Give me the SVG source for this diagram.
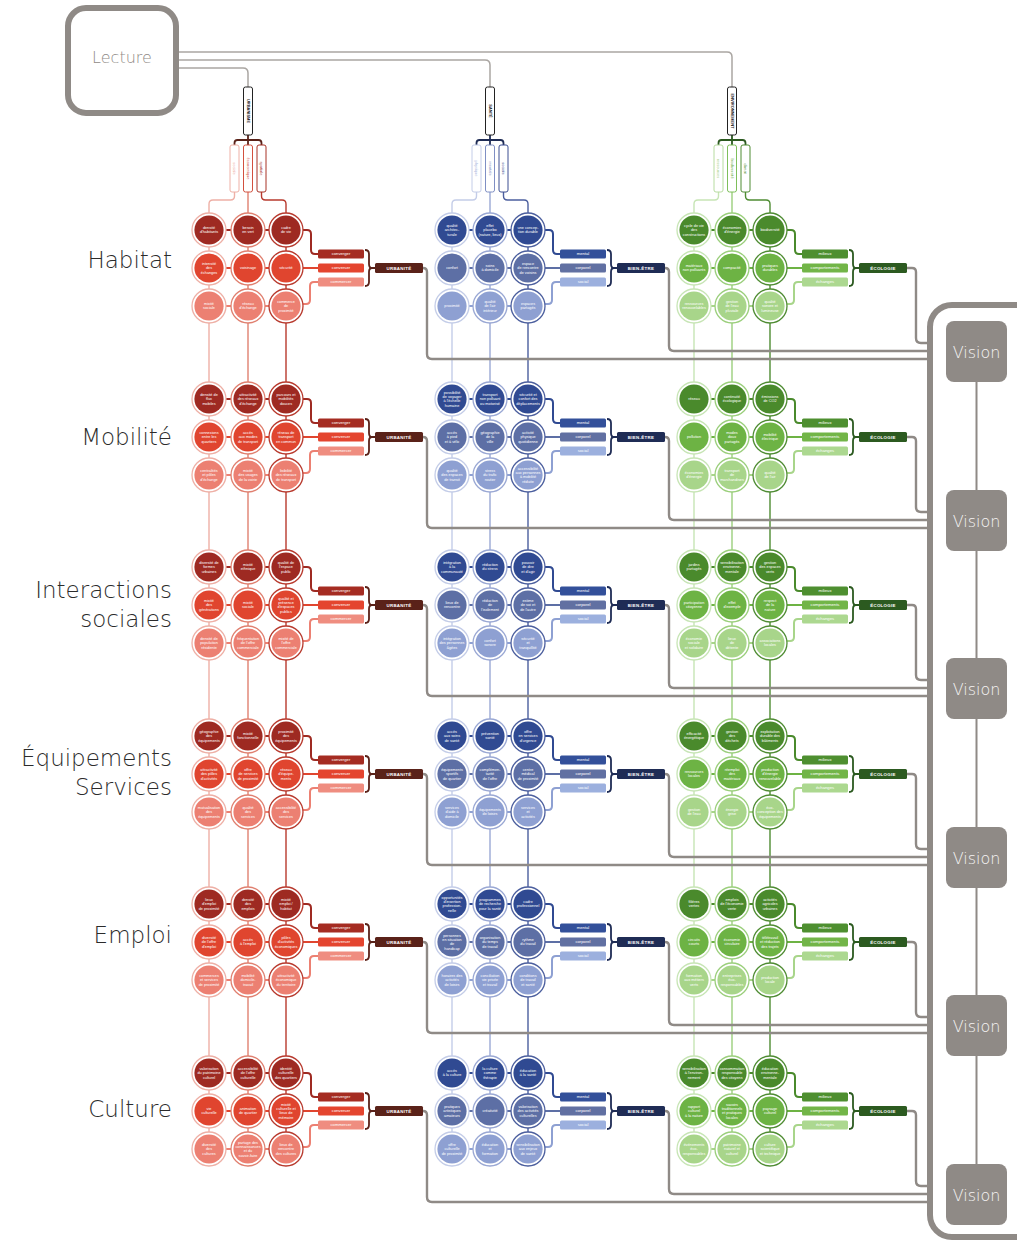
<svg xmlns="http://www.w3.org/2000/svg" xmlns:xlink="http://www.w3.org/1999/xlink" width="1017" height="1241" viewBox="0 0 1017 1241">
<style>
.ct{font-family:"Liberation Sans",Arial,sans-serif;font-size:3.8px;fill:#fff;text-anchor:middle}
.lt{font-family:"Liberation Sans",Arial,sans-serif;font-size:4.2px;fill:#fff;text-anchor:middle}
.bt{font-family:"Liberation Sans",Arial,sans-serif;font-size:4.4px;font-weight:bold;fill:#fff;text-anchor:middle;letter-spacing:.3px}
.vt{font-family:"Liberation Sans",Arial,sans-serif;font-size:4px;text-anchor:middle}
.title{font-family:"DejaVu Sans",sans-serif;font-size:23px;font-weight:200;fill:#2b2b2b;text-anchor:end}
.vis{font-family:"DejaVu Sans",sans-serif;font-size:16px;font-weight:200;fill:#f4f3f2;text-anchor:middle}
.rg{fill:#fff;stroke-width:1.3}
.conn path,#rowConn path{fill:none}
.rl{stroke-width:2}
.cl{stroke-width:1.4}
.drop{stroke:#8f8a86;stroke-width:2.4}
.lec{stroke:#aaa6a2;stroke-width:1.5}
.brace{stroke-width:1.8}
.fu1{fill:#9e2a22}.fu2{fill:#e0452f}.fu3{fill:#ec8072}
.fb1{fill:#304a92}.fb2{fill:#5d6fa5}.fb3{fill:#8ea0d2}
.fg1{fill:#4a8a2c}.fg2{fill:#6db344}.fg3{fill:#a8d58a}
.ku1{stroke:#eeb0a6}.ku2{stroke:#e08070}.ku3{stroke:#b83a2e}
.kb1{stroke:#c4cde8}.kb2{stroke:#9aa8d4}.kb3{stroke:#4c5f9e}
.kg1{stroke:#c7e5b5}.kg2{stroke:#9bcf7c}.kg3{stroke:#4f8c33}
.su1{stroke:#9e2a22}.su2{stroke:#e0452f}.su3{stroke:#ec8072}
.sb1{stroke:#304a92}.sb2{stroke:#5d6fa5}.sb3{stroke:#8ea0d2}
.sg1{stroke:#4a8a2c}.sg2{stroke:#6db344}.sg3{stroke:#a8d58a}
.bu{stroke:#5a2219}.bb{stroke:#1f2c55}.bg{stroke:#2c5a20}
.frame{fill:none;stroke:#8f8a86;stroke-width:6}
.vbox{fill:#8f8a86}
</style>
<defs>
<g id="rowConn" fill="none">
<path class="rl su1" d="M209 230H286"/><path class="rl su2" d="M209 268H286"/><path class="rl su3" d="M209 306H286"/>
<path class="rl su1" d="M303 230H307Q311 230 311 234V250Q311 254 315 254H318"/>
<path class="rl su2" d="M303 268H318"/>
<path class="rl su3" d="M303 304H306Q310 304 310 300V286Q310 282 314 282H318"/>
<path class="brace bu" d="M365 250Q369 250 369 254V264Q369 268 372 268Q369 268 369 272V282Q369 286 365 286M372 268H375"/>
<path class="drop" d="M423 268Q427 268 427 272V354Q427 359 432 359H930"/>
<path class="rl sb1" d="M452 230H528"/><path class="rl sb2" d="M452 268H528"/><path class="rl sb3" d="M452 306H528"/>
<path class="rl sb1" d="M545 230H549Q553 230 553 234V250Q553 254 557 254H560"/>
<path class="rl sb2" d="M545 268H560"/>
<path class="rl sb3" d="M545 304H548Q552 304 552 300V286Q552 282 556 282H560"/>
<path class="brace bb" d="M607 250Q611 250 611 254V264Q611 268 614 268Q611 268 611 272V282Q611 286 607 286M614 268H617"/>
<path class="drop" d="M665 268Q669 268 669 272V346Q669 351 674 351H930"/>
<path class="rl sg1" d="M694 230H770"/><path class="rl sg2" d="M694 268H770"/><path class="rl sg3" d="M694 306H770"/>
<path class="rl sg1" d="M787 230H791Q795 230 795 234V250Q795 254 799 254H802"/>
<path class="rl sg2" d="M787 268H802"/>
<path class="rl sg3" d="M787 304H790Q794 304 794 300V286Q794 282 798 282H802"/>
<path class="brace bg" d="M849 250Q853 250 853 254V264Q853 268 856 268Q853 268 853 272V282Q853 286 849 286M856 268H859"/>
<path class="drop" d="M907 268H912Q916 268 916 272V338Q916 343 921 343H930"/>
</g>
</defs>
<rect width="1017" height="1241" fill="#fff"/>

<g id="connectors" class="conn" fill="none">
<path class="lec" d="M179 52H727Q732 52 732 57V87"/>
<path class="lec" d="M179 60H485Q490 60 490 65V87"/>
<path class="lec" d="M179 68H243Q248 68 248 73V87"/>
<path class="brace bu" stroke-width="1.2" d="M248 135V145M234.5 145V143Q234.5 140 237.5 140H258.5Q261.5 140 261.5 143V145"/>
<path class="brace bb" stroke-width="1.2" d="M490 135V145M476.5 145V143Q476.5 140 479.5 140H500.5Q503.5 140 503.5 143V145"/>
<path class="brace bg" stroke-width="1.2" d="M732 135V145M718.5 145V143Q718.5 140 721.5 140H742.5Q745.5 140 745.5 143V145"/>
<path class="cl ku1" d="M234.5 192V196Q234.5 200 230.5 200H213Q209 200 209 204V1149"/>
<path class="cl ku2" d="M248 192V1149"/>
<path class="cl ku3" d="M261.5 192V196Q261.5 200 265.5 200H282Q286 200 286 204V1149"/>
<path class="cl kb1" d="M476.5 192V196Q476.5 200 472.5 200H456Q452 200 452 204V1149"/>
<path class="cl kb2" d="M490 192V1149"/>
<path class="cl kb3" d="M503.5 192V196Q503.5 200 507.5 200H524Q528 200 528 204V1149"/>
<path class="cl kg1" d="M718.5 192V196Q718.5 200 714.5 200H698Q694 200 694 204V1149"/>
<path class="cl kg2" d="M732 192V1149"/>
<path class="cl kg3" d="M745.5 192V196Q745.5 200 749.5 200H766Q770 200 770 204V1149"/>
<path stroke="#8f8a86" stroke-width="2" d="M976.5 382V1164"/>
<use xlink:href="#rowConn"/>
<use xlink:href="#rowConn" y="169"/>
<use xlink:href="#rowConn" y="337"/>
<use xlink:href="#rowConn" y="506"/>
<use xlink:href="#rowConn" y="674"/>
<use xlink:href="#rowConn" y="843"/>
</g>

<g id="lecture"><rect x="68" y="8" width="108" height="105" rx="18" fill="#fff" stroke="#8f8a86" stroke-width="6"/><text x="122" y="63" font-family="DejaVu Sans,sans-serif" font-size="16" font-weight="200" fill="#8f8a86" text-anchor="middle">Lecture</text></g>

<g id="top-urbanisme"><rect x="243.5" y="87" width="9" height="48" rx="2" fill="#fff" stroke="#222" stroke-width="1"/><text class="vt" font-weight="bold" fill="#222" transform="translate(246.6 111) rotate(90)">URBANISME</text></g>
<g id="top-sante"><rect x="485.5" y="87" width="9" height="48" rx="2" fill="#fff" stroke="#222" stroke-width="1"/><text class="vt" font-weight="bold" fill="#222" transform="translate(488.6 111) rotate(90)">SANTÉ</text></g>
<g id="top-environnement"><rect x="727.5" y="87" width="9" height="48" rx="2" fill="#fff" stroke="#222" stroke-width="1"/><text class="vt" font-weight="bold" fill="#222" font-size="3.6" transform="translate(730.6 111) rotate(90)">ENVIRONNEMENT</text></g>

<g id="sub-u1"><rect x="230" y="145" width="9" height="47" rx="2" fill="#fff" stroke="#eeb0a6"/><text class="vt" fill="#eeb0a6" transform="translate(233.1 168.5) rotate(90)">sociale</text></g>
<g id="sub-u2"><rect x="243.5" y="145" width="9" height="47" rx="2" fill="#fff" stroke="#d2503e"/><text class="vt" fill="#d2503e" transform="translate(246.6 168.5) rotate(90)">économique</text></g>
<g id="sub-u3"><rect x="257" y="145" width="9" height="47" rx="2" fill="#fff" stroke="#a83226"/><text class="vt" fill="#a83226" transform="translate(260.1 168.5) rotate(90)">spatiale</text></g>
<g id="sub-b1"><rect x="472" y="145" width="9" height="47" rx="2" fill="#fff" stroke="#c4cde8"/><text class="vt" fill="#aab6dc" transform="translate(475.1 168.5) rotate(90)">physique</text></g>
<g id="sub-b2"><rect x="485.5" y="145" width="9" height="47" rx="2" fill="#fff" stroke="#7f8fc4"/><text class="vt" fill="#7f8fc4" transform="translate(488.6 168.5) rotate(90)">mentale</text></g>
<g id="sub-b3"><rect x="499" y="145" width="9" height="47" rx="2" fill="#fff" stroke="#3c4f92"/><text class="vt" fill="#3c4f92" transform="translate(502.1 168.5) rotate(90)">sociale</text></g>
<g id="sub-g1"><rect x="714" y="145" width="9" height="47" rx="2" fill="#fff" stroke="#b7dca0"/><text class="vt" fill="#9fce82" transform="translate(717.1 168.5) rotate(90)">ressources</text></g>
<g id="sub-g2"><rect x="727.5" y="145" width="9" height="47" rx="2" fill="#fff" stroke="#7ebf5a"/><text class="vt" fill="#6aae45" transform="translate(730.6 168.5) rotate(90)">biodiversité</text></g>
<g id="sub-g3"><rect x="741" y="145" width="9" height="47" rx="2" fill="#fff" stroke="#4f8c33"/><text class="vt" fill="#4f8c33" transform="translate(744.1 168.5) rotate(90)">climat</text></g>

<g id="row-titles">
<text class="title" x="172" y="268">Habitat</text>
<text class="title" x="172" y="445">Mobilité</text>
<text class="title" x="172" y="598">Interactions</text>
<text class="title" x="172" y="627">sociales</text>
<text class="title" x="172" y="766">Équipements</text>
<text class="title" x="172" y="795">Services</text>
<text class="title" x="172" y="943">Emploi</text>
<text class="title" x="172" y="1117">Culture</text>
</g>

<g id="vision-frame"><rect class="frame" x="930" y="305" width="130" height="932" rx="22"/></g>
<g id="vision-1"><rect class="vbox" x="946" y="321" width="61" height="61" rx="8"/><text class="vis" x="976.5" y="358">Vision</text></g>
<g id="vision-2"><rect class="vbox" x="946" y="490" width="61" height="61" rx="8"/><text class="vis" x="976.5" y="527">Vision</text></g>
<g id="vision-3"><rect class="vbox" x="946" y="658" width="61" height="61" rx="8"/><text class="vis" x="976.5" y="695">Vision</text></g>
<g id="vision-4"><rect class="vbox" x="946" y="827" width="61" height="61" rx="8"/><text class="vis" x="976.5" y="864">Vision</text></g>
<g id="vision-5"><rect class="vbox" x="946" y="995" width="61" height="61" rx="8"/><text class="vis" x="976.5" y="1032">Vision</text></g>
<g id="vision-6"><rect class="vbox" x="946" y="1164" width="61" height="61" rx="8"/><text class="vis" x="976.5" y="1201">Vision</text></g>

<g id="labels-habitat">
<g id="hab-converger"><rect x="318" y="249.5" width="46" height="9" rx="1.5" fill="#a52c22"/><text class="lt" x="341" y="255.4">converger</text></g>
<g id="hab-converser"><rect x="318" y="263.5" width="46" height="9" rx="1.5" fill="#e4452f"/><text class="lt" x="341" y="269.4">converser</text></g>
<g id="hab-commercer"><rect x="318" y="277.5" width="46" height="9" rx="1.5" fill="#ef8d80"/><text class="lt" x="341" y="283.4">commercer</text></g>
<g id="hab-urbanite"><rect x="375" y="263" width="48" height="10" rx="1.5" fill="#5a2219"/><text class="bt" x="399" y="269.6">URBANITÉ</text></g>
<g id="hab-mental"><rect x="560" y="249.5" width="46" height="9" rx="1.5" fill="#33509a"/><text class="lt" x="583" y="255.4">mental</text></g>
<g id="hab-corporel"><rect x="560" y="263.5" width="46" height="9" rx="1.5" fill="#6170a2"/><text class="lt" x="583" y="269.4">corporel</text></g>
<g id="hab-social"><rect x="560" y="277.5" width="46" height="9" rx="1.5" fill="#9cb0de"/><text class="lt" x="583" y="283.4">social</text></g>
<g id="hab-bienetre"><rect x="617" y="263" width="48" height="10" rx="1.5" fill="#1f2c55"/><text class="bt" x="641" y="269.6">BIEN-ÊTRE</text></g>
<g id="hab-milieux"><rect x="802" y="249.5" width="46" height="9" rx="1.5" fill="#4e8f30"/><text class="lt" x="825" y="255.4">milieux</text></g>
<g id="hab-comportements"><rect x="802" y="263.5" width="46" height="9" rx="1.5" fill="#72b548"/><text class="lt" x="825" y="269.4">comportements</text></g>
<g id="hab-echanges"><rect x="802" y="277.5" width="46" height="9" rx="1.5" fill="#acd890"/><text class="lt" x="825" y="283.4">échanges</text></g>
<g id="hab-ecologie"><rect x="859" y="263" width="48" height="10" rx="1.5" fill="#2c5a20"/><text class="bt" x="883" y="269.6">ÉCOLOGIE</text></g>
</g>
<g id="labels-mobilite" transform="translate(0 169)">
<g id="mob-converger"><rect x="318" y="249.5" width="46" height="9" rx="1.5" fill="#a52c22"/><text class="lt" x="341" y="255.4">converger</text></g>
<g id="mob-converser"><rect x="318" y="263.5" width="46" height="9" rx="1.5" fill="#e4452f"/><text class="lt" x="341" y="269.4">converser</text></g>
<g id="mob-commercer"><rect x="318" y="277.5" width="46" height="9" rx="1.5" fill="#ef8d80"/><text class="lt" x="341" y="283.4">commercer</text></g>
<g id="mob-urbanite"><rect x="375" y="263" width="48" height="10" rx="1.5" fill="#5a2219"/><text class="bt" x="399" y="269.6">URBANITÉ</text></g>
<g id="mob-mental"><rect x="560" y="249.5" width="46" height="9" rx="1.5" fill="#33509a"/><text class="lt" x="583" y="255.4">mental</text></g>
<g id="mob-corporel"><rect x="560" y="263.5" width="46" height="9" rx="1.5" fill="#6170a2"/><text class="lt" x="583" y="269.4">corporel</text></g>
<g id="mob-social"><rect x="560" y="277.5" width="46" height="9" rx="1.5" fill="#9cb0de"/><text class="lt" x="583" y="283.4">social</text></g>
<g id="mob-bienetre"><rect x="617" y="263" width="48" height="10" rx="1.5" fill="#1f2c55"/><text class="bt" x="641" y="269.6">BIEN-ÊTRE</text></g>
<g id="mob-milieux"><rect x="802" y="249.5" width="46" height="9" rx="1.5" fill="#4e8f30"/><text class="lt" x="825" y="255.4">milieux</text></g>
<g id="mob-comportements"><rect x="802" y="263.5" width="46" height="9" rx="1.5" fill="#72b548"/><text class="lt" x="825" y="269.4">comportements</text></g>
<g id="mob-echanges"><rect x="802" y="277.5" width="46" height="9" rx="1.5" fill="#acd890"/><text class="lt" x="825" y="283.4">échanges</text></g>
<g id="mob-ecologie"><rect x="859" y="263" width="48" height="10" rx="1.5" fill="#2c5a20"/><text class="bt" x="883" y="269.6">ÉCOLOGIE</text></g>
</g>
<g id="labels-interactions" transform="translate(0 337)">
<g id="int-converger"><rect x="318" y="249.5" width="46" height="9" rx="1.5" fill="#a52c22"/><text class="lt" x="341" y="255.4">converger</text></g>
<g id="int-converser"><rect x="318" y="263.5" width="46" height="9" rx="1.5" fill="#e4452f"/><text class="lt" x="341" y="269.4">converser</text></g>
<g id="int-commercer"><rect x="318" y="277.5" width="46" height="9" rx="1.5" fill="#ef8d80"/><text class="lt" x="341" y="283.4">commercer</text></g>
<g id="int-urbanite"><rect x="375" y="263" width="48" height="10" rx="1.5" fill="#5a2219"/><text class="bt" x="399" y="269.6">URBANITÉ</text></g>
<g id="int-mental"><rect x="560" y="249.5" width="46" height="9" rx="1.5" fill="#33509a"/><text class="lt" x="583" y="255.4">mental</text></g>
<g id="int-corporel"><rect x="560" y="263.5" width="46" height="9" rx="1.5" fill="#6170a2"/><text class="lt" x="583" y="269.4">corporel</text></g>
<g id="int-social"><rect x="560" y="277.5" width="46" height="9" rx="1.5" fill="#9cb0de"/><text class="lt" x="583" y="283.4">social</text></g>
<g id="int-bienetre"><rect x="617" y="263" width="48" height="10" rx="1.5" fill="#1f2c55"/><text class="bt" x="641" y="269.6">BIEN-ÊTRE</text></g>
<g id="int-milieux"><rect x="802" y="249.5" width="46" height="9" rx="1.5" fill="#4e8f30"/><text class="lt" x="825" y="255.4">milieux</text></g>
<g id="int-comportements"><rect x="802" y="263.5" width="46" height="9" rx="1.5" fill="#72b548"/><text class="lt" x="825" y="269.4">comportements</text></g>
<g id="int-echanges"><rect x="802" y="277.5" width="46" height="9" rx="1.5" fill="#acd890"/><text class="lt" x="825" y="283.4">échanges</text></g>
<g id="int-ecologie"><rect x="859" y="263" width="48" height="10" rx="1.5" fill="#2c5a20"/><text class="bt" x="883" y="269.6">ÉCOLOGIE</text></g>
</g>
<g id="labels-equipements" transform="translate(0 506)">
<g id="equ-converger"><rect x="318" y="249.5" width="46" height="9" rx="1.5" fill="#a52c22"/><text class="lt" x="341" y="255.4">converger</text></g>
<g id="equ-converser"><rect x="318" y="263.5" width="46" height="9" rx="1.5" fill="#e4452f"/><text class="lt" x="341" y="269.4">converser</text></g>
<g id="equ-commercer"><rect x="318" y="277.5" width="46" height="9" rx="1.5" fill="#ef8d80"/><text class="lt" x="341" y="283.4">commercer</text></g>
<g id="equ-urbanite"><rect x="375" y="263" width="48" height="10" rx="1.5" fill="#5a2219"/><text class="bt" x="399" y="269.6">URBANITÉ</text></g>
<g id="equ-mental"><rect x="560" y="249.5" width="46" height="9" rx="1.5" fill="#33509a"/><text class="lt" x="583" y="255.4">mental</text></g>
<g id="equ-corporel"><rect x="560" y="263.5" width="46" height="9" rx="1.5" fill="#6170a2"/><text class="lt" x="583" y="269.4">corporel</text></g>
<g id="equ-social"><rect x="560" y="277.5" width="46" height="9" rx="1.5" fill="#9cb0de"/><text class="lt" x="583" y="283.4">social</text></g>
<g id="equ-bienetre"><rect x="617" y="263" width="48" height="10" rx="1.5" fill="#1f2c55"/><text class="bt" x="641" y="269.6">BIEN-ÊTRE</text></g>
<g id="equ-milieux"><rect x="802" y="249.5" width="46" height="9" rx="1.5" fill="#4e8f30"/><text class="lt" x="825" y="255.4">milieux</text></g>
<g id="equ-comportements"><rect x="802" y="263.5" width="46" height="9" rx="1.5" fill="#72b548"/><text class="lt" x="825" y="269.4">comportements</text></g>
<g id="equ-echanges"><rect x="802" y="277.5" width="46" height="9" rx="1.5" fill="#acd890"/><text class="lt" x="825" y="283.4">échanges</text></g>
<g id="equ-ecologie"><rect x="859" y="263" width="48" height="10" rx="1.5" fill="#2c5a20"/><text class="bt" x="883" y="269.6">ÉCOLOGIE</text></g>
</g>
<g id="labels-emploi" transform="translate(0 674)">
<g id="emp-converger"><rect x="318" y="249.5" width="46" height="9" rx="1.5" fill="#a52c22"/><text class="lt" x="341" y="255.4">converger</text></g>
<g id="emp-converser"><rect x="318" y="263.5" width="46" height="9" rx="1.5" fill="#e4452f"/><text class="lt" x="341" y="269.4">converser</text></g>
<g id="emp-commercer"><rect x="318" y="277.5" width="46" height="9" rx="1.5" fill="#ef8d80"/><text class="lt" x="341" y="283.4">commercer</text></g>
<g id="emp-urbanite"><rect x="375" y="263" width="48" height="10" rx="1.5" fill="#5a2219"/><text class="bt" x="399" y="269.6">URBANITÉ</text></g>
<g id="emp-mental"><rect x="560" y="249.5" width="46" height="9" rx="1.5" fill="#33509a"/><text class="lt" x="583" y="255.4">mental</text></g>
<g id="emp-corporel"><rect x="560" y="263.5" width="46" height="9" rx="1.5" fill="#6170a2"/><text class="lt" x="583" y="269.4">corporel</text></g>
<g id="emp-social"><rect x="560" y="277.5" width="46" height="9" rx="1.5" fill="#9cb0de"/><text class="lt" x="583" y="283.4">social</text></g>
<g id="emp-bienetre"><rect x="617" y="263" width="48" height="10" rx="1.5" fill="#1f2c55"/><text class="bt" x="641" y="269.6">BIEN-ÊTRE</text></g>
<g id="emp-milieux"><rect x="802" y="249.5" width="46" height="9" rx="1.5" fill="#4e8f30"/><text class="lt" x="825" y="255.4">milieux</text></g>
<g id="emp-comportements"><rect x="802" y="263.5" width="46" height="9" rx="1.5" fill="#72b548"/><text class="lt" x="825" y="269.4">comportements</text></g>
<g id="emp-echanges"><rect x="802" y="277.5" width="46" height="9" rx="1.5" fill="#acd890"/><text class="lt" x="825" y="283.4">échanges</text></g>
<g id="emp-ecologie"><rect x="859" y="263" width="48" height="10" rx="1.5" fill="#2c5a20"/><text class="bt" x="883" y="269.6">ÉCOLOGIE</text></g>
</g>
<g id="labels-culture" transform="translate(0 843)">
<g id="cul-converger"><rect x="318" y="249.5" width="46" height="9" rx="1.5" fill="#a52c22"/><text class="lt" x="341" y="255.4">converger</text></g>
<g id="cul-converser"><rect x="318" y="263.5" width="46" height="9" rx="1.5" fill="#e4452f"/><text class="lt" x="341" y="269.4">converser</text></g>
<g id="cul-commercer"><rect x="318" y="277.5" width="46" height="9" rx="1.5" fill="#ef8d80"/><text class="lt" x="341" y="283.4">commercer</text></g>
<g id="cul-urbanite"><rect x="375" y="263" width="48" height="10" rx="1.5" fill="#5a2219"/><text class="bt" x="399" y="269.6">URBANITÉ</text></g>
<g id="cul-mental"><rect x="560" y="249.5" width="46" height="9" rx="1.5" fill="#33509a"/><text class="lt" x="583" y="255.4">mental</text></g>
<g id="cul-corporel"><rect x="560" y="263.5" width="46" height="9" rx="1.5" fill="#6170a2"/><text class="lt" x="583" y="269.4">corporel</text></g>
<g id="cul-social"><rect x="560" y="277.5" width="46" height="9" rx="1.5" fill="#9cb0de"/><text class="lt" x="583" y="283.4">social</text></g>
<g id="cul-bienetre"><rect x="617" y="263" width="48" height="10" rx="1.5" fill="#1f2c55"/><text class="bt" x="641" y="269.6">BIEN-ÊTRE</text></g>
<g id="cul-milieux"><rect x="802" y="249.5" width="46" height="9" rx="1.5" fill="#4e8f30"/><text class="lt" x="825" y="255.4">milieux</text></g>
<g id="cul-comportements"><rect x="802" y="263.5" width="46" height="9" rx="1.5" fill="#72b548"/><text class="lt" x="825" y="269.4">comportements</text></g>
<g id="cul-echanges"><rect x="802" y="277.5" width="46" height="9" rx="1.5" fill="#acd890"/><text class="lt" x="825" y="283.4">échanges</text></g>
<g id="cul-ecologie"><rect x="859" y="263" width="48" height="10" rx="1.5" fill="#2c5a20"/><text class="bt" x="883" y="269.6">ÉCOLOGIE</text></g>
</g>

<g id="hab-u11" transform="translate(209 230)"><circle r="17" class="rg ku1"/><circle r="14.6" class="fu1"/><text class="ct" y="-0.85"><tspan x="0">densité</tspan><tspan x="0" dy="4.3">d'habitants</tspan></text></g>
<g id="hab-u12" transform="translate(248 230)"><circle r="17" class="rg ku2"/><circle r="14.6" class="fu1"/><text class="ct" y="-0.85"><tspan x="0">besoin</tspan><tspan x="0" dy="4.3">en vert</tspan></text></g>
<g id="hab-u13" transform="translate(286 230)"><circle r="17" class="rg ku3"/><circle r="14.6" class="fu1"/><text class="ct" y="-0.85"><tspan x="0">cadre</tspan><tspan x="0" dy="4.3">de vie</tspan></text></g>
<g id="hab-u21" transform="translate(209 268)"><circle r="17" class="rg ku1"/><circle r="14.6" class="fu2"/><text class="ct" y="-3"><tspan x="0">intensité</tspan><tspan x="0" dy="4.3">des</tspan><tspan x="0" dy="4.3">échanges</tspan></text></g>
<g id="hab-u22" transform="translate(248 268)"><circle r="17" class="rg ku2"/><circle r="14.6" class="fu2"/><text class="ct" y="1.3">voisinage</text></g>
<g id="hab-u23" transform="translate(286 268)"><circle r="17" class="rg ku3"/><circle r="14.6" class="fu2"/><text class="ct" y="1.3">sécurité</text></g>
<g id="hab-u31" transform="translate(209 306)"><circle r="17" class="rg ku1"/><circle r="14.6" class="fu3"/><text class="ct" y="-0.85"><tspan x="0">mixité</tspan><tspan x="0" dy="4.3">sociale</tspan></text></g>
<g id="hab-u32" transform="translate(248 306)"><circle r="17" class="rg ku2"/><circle r="14.6" class="fu3"/><text class="ct" y="-0.85"><tspan x="0">réseau</tspan><tspan x="0" dy="4.3">d'échange</tspan></text></g>
<g id="hab-u33" transform="translate(286 306)"><circle r="17" class="rg ku3"/><circle r="14.6" class="fu3"/><text class="ct" y="-3"><tspan x="0">commerce</tspan><tspan x="0" dy="4.3">de</tspan><tspan x="0" dy="4.3">proximité</tspan></text></g>
<g id="hab-b11" transform="translate(452 230)"><circle r="17" class="rg kb1"/><circle r="14.6" class="fb1"/><text class="ct" y="-3"><tspan x="0">qualité</tspan><tspan x="0" dy="4.3">architec-</tspan><tspan x="0" dy="4.3">turale</tspan></text></g>
<g id="hab-b12" transform="translate(490 230)"><circle r="17" class="rg kb2"/><circle r="14.6" class="fb1"/><text class="ct" y="-3"><tspan x="0">effet</tspan><tspan x="0" dy="4.3">placebo</tspan><tspan x="0" dy="4.3">(nature, lieux)</tspan></text></g>
<g id="hab-b13" transform="translate(528 230)"><circle r="17" class="rg kb3"/><circle r="14.6" class="fb1"/><text class="ct" y="-0.85"><tspan x="0">une concep-</tspan><tspan x="0" dy="4.3">tion durable</tspan></text></g>
<g id="hab-b21" transform="translate(452 268)"><circle r="17" class="rg kb1"/><circle r="14.6" class="fb2"/><text class="ct" y="1.3">confort</text></g>
<g id="hab-b22" transform="translate(490 268)"><circle r="17" class="rg kb2"/><circle r="14.6" class="fb2"/><text class="ct" y="-0.85"><tspan x="0">soins</tspan><tspan x="0" dy="4.3">à domicile</tspan></text></g>
<g id="hab-b23" transform="translate(528 268)"><circle r="17" class="rg kb3"/><circle r="14.6" class="fb2"/><text class="ct" y="-3"><tspan x="0">espace</tspan><tspan x="0" dy="4.3">de rencontre</tspan><tspan x="0" dy="4.3">de voisins</tspan></text></g>
<g id="hab-b31" transform="translate(452 306)"><circle r="17" class="rg kb1"/><circle r="14.6" class="fb3"/><text class="ct" y="1.3">proximité</text></g>
<g id="hab-b32" transform="translate(490 306)"><circle r="17" class="rg kb2"/><circle r="14.6" class="fb3"/><text class="ct" y="-3"><tspan x="0">qualité</tspan><tspan x="0" dy="4.3">de l'air</tspan><tspan x="0" dy="4.3">intérieur</tspan></text></g>
<g id="hab-b33" transform="translate(528 306)"><circle r="17" class="rg kb3"/><circle r="14.6" class="fb3"/><text class="ct" y="-0.85"><tspan x="0">espaces</tspan><tspan x="0" dy="4.3">partagés</tspan></text></g>
<g id="hab-g11" transform="translate(694 230)"><circle r="17" class="rg kg1"/><circle r="14.6" class="fg1"/><text class="ct" y="-3"><tspan x="0">cycle de vie</tspan><tspan x="0" dy="4.3">des</tspan><tspan x="0" dy="4.3">constructions</tspan></text></g>
<g id="hab-g12" transform="translate(732 230)"><circle r="17" class="rg kg2"/><circle r="14.6" class="fg1"/><text class="ct" y="-0.85"><tspan x="0">économies</tspan><tspan x="0" dy="4.3">d'énergie</tspan></text></g>
<g id="hab-g13" transform="translate(770 230)"><circle r="17" class="rg kg3"/><circle r="14.6" class="fg1"/><text class="ct" y="1.3">biodiversité</text></g>
<g id="hab-g21" transform="translate(694 268)"><circle r="17" class="rg kg1"/><circle r="14.6" class="fg2"/><text class="ct" y="-0.85"><tspan x="0">matériaux</tspan><tspan x="0" dy="4.3">non polluants</tspan></text></g>
<g id="hab-g22" transform="translate(732 268)"><circle r="17" class="rg kg2"/><circle r="14.6" class="fg2"/><text class="ct" y="1.3">compacité</text></g>
<g id="hab-g23" transform="translate(770 268)"><circle r="17" class="rg kg3"/><circle r="14.6" class="fg2"/><text class="ct" y="-0.85"><tspan x="0">pratiques</tspan><tspan x="0" dy="4.3">durables</tspan></text></g>
<g id="hab-g31" transform="translate(694 306)"><circle r="17" class="rg kg1"/><circle r="14.6" class="fg3"/><text class="ct" y="-0.85"><tspan x="0">ressources</tspan><tspan x="0" dy="4.3">renouvelables</tspan></text></g>
<g id="hab-g32" transform="translate(732 306)"><circle r="17" class="rg kg2"/><circle r="14.6" class="fg3"/><text class="ct" y="-3"><tspan x="0">gestion</tspan><tspan x="0" dy="4.3">de l'eau</tspan><tspan x="0" dy="4.3">pluviale</tspan></text></g>
<g id="hab-g33" transform="translate(770 306)"><circle r="17" class="rg kg3"/><circle r="14.6" class="fg3"/><text class="ct" y="-3"><tspan x="0">qualité</tspan><tspan x="0" dy="4.3">sonore et</tspan><tspan x="0" dy="4.3">lumineuse</tspan></text></g>

<g id="mob-u11" transform="translate(209 399)"><circle r="17" class="rg ku1"/><circle r="14.6" class="fu1"/><text class="ct" y="-3"><tspan x="0">densité de</tspan><tspan x="0" dy="4.3">flux</tspan><tspan x="0" dy="4.3">mobiles</tspan></text></g>
<g id="mob-u12" transform="translate(248 399)"><circle r="17" class="rg ku2"/><circle r="14.6" class="fu1"/><text class="ct" y="-3"><tspan x="0">attractivité</tspan><tspan x="0" dy="4.3">des réseaux</tspan><tspan x="0" dy="4.3">d'échange</tspan></text></g>
<g id="mob-u13" transform="translate(286 399)"><circle r="17" class="rg ku3"/><circle r="14.6" class="fu1"/><text class="ct" y="-3"><tspan x="0">parcours et</tspan><tspan x="0" dy="4.3">mobilités</tspan><tspan x="0" dy="4.3">douces</tspan></text></g>
<g id="mob-u21" transform="translate(209 437)"><circle r="17" class="rg ku1"/><circle r="14.6" class="fu2"/><text class="ct" y="-3"><tspan x="0">connexions</tspan><tspan x="0" dy="4.3">entre les</tspan><tspan x="0" dy="4.3">quartiers</tspan></text></g>
<g id="mob-u22" transform="translate(248 437)"><circle r="17" class="rg ku2"/><circle r="14.6" class="fu2"/><text class="ct" y="-3"><tspan x="0">accès</tspan><tspan x="0" dy="4.3">aux modes</tspan><tspan x="0" dy="4.3">de transport</tspan></text></g>
<g id="mob-u23" transform="translate(286 437)"><circle r="17" class="rg ku3"/><circle r="14.6" class="fu2"/><text class="ct" y="-3"><tspan x="0">réseau de</tspan><tspan x="0" dy="4.3">transport</tspan><tspan x="0" dy="4.3">en commun</tspan></text></g>
<g id="mob-u31" transform="translate(209 475)"><circle r="17" class="rg ku1"/><circle r="14.6" class="fu3"/><text class="ct" y="-3"><tspan x="0">centralités</tspan><tspan x="0" dy="4.3">et pôles</tspan><tspan x="0" dy="4.3">d'échange</tspan></text></g>
<g id="mob-u32" transform="translate(248 475)"><circle r="17" class="rg ku2"/><circle r="14.6" class="fu3"/><text class="ct" y="-3"><tspan x="0">mixité</tspan><tspan x="0" dy="4.3">des usages</tspan><tspan x="0" dy="4.3">de la voirie</tspan></text></g>
<g id="mob-u33" transform="translate(286 475)"><circle r="17" class="rg ku3"/><circle r="14.6" class="fu3"/><text class="ct" y="-3"><tspan x="0">lisibilité</tspan><tspan x="0" dy="4.3">des réseaux</tspan><tspan x="0" dy="4.3">de transport</tspan></text></g>
<g id="mob-b11" transform="translate(452 399)"><circle r="17" class="rg kb1"/><circle r="14.6" class="fb1"/><text class="ct" y="-5.15"><tspan x="0">possibilité</tspan><tspan x="0" dy="4.3">de voyager</tspan><tspan x="0" dy="4.3">à l'échelle</tspan><tspan x="0" dy="4.3">humaine</tspan></text></g>
<g id="mob-b12" transform="translate(490 399)"><circle r="17" class="rg kb2"/><circle r="14.6" class="fb1"/><text class="ct" y="-3"><tspan x="0">transport</tspan><tspan x="0" dy="4.3">non polluant</tspan><tspan x="0" dy="4.3">ou motorisé</tspan></text></g>
<g id="mob-b13" transform="translate(528 399)"><circle r="17" class="rg kb3"/><circle r="14.6" class="fb1"/><text class="ct" y="-3"><tspan x="0">sécurité et</tspan><tspan x="0" dy="4.3">confort des</tspan><tspan x="0" dy="4.3">déplacements</tspan></text></g>
<g id="mob-b21" transform="translate(452 437)"><circle r="17" class="rg kb1"/><circle r="14.6" class="fb2"/><text class="ct" y="-3"><tspan x="0">accès</tspan><tspan x="0" dy="4.3">à pied</tspan><tspan x="0" dy="4.3">et à vélo</tspan></text></g>
<g id="mob-b22" transform="translate(490 437)"><circle r="17" class="rg kb2"/><circle r="14.6" class="fb2"/><text class="ct" y="-3"><tspan x="0">géographie</tspan><tspan x="0" dy="4.3">de la</tspan><tspan x="0" dy="4.3">ville</tspan></text></g>
<g id="mob-b23" transform="translate(528 437)"><circle r="17" class="rg kb3"/><circle r="14.6" class="fb2"/><text class="ct" y="-3"><tspan x="0">activité</tspan><tspan x="0" dy="4.3">physique</tspan><tspan x="0" dy="4.3">quotidienne</tspan></text></g>
<g id="mob-b31" transform="translate(452 475)"><circle r="17" class="rg kb1"/><circle r="14.6" class="fb3"/><text class="ct" y="-3"><tspan x="0">qualité</tspan><tspan x="0" dy="4.3">des espaces</tspan><tspan x="0" dy="4.3">de transit</tspan></text></g>
<g id="mob-b32" transform="translate(490 475)"><circle r="17" class="rg kb2"/><circle r="14.6" class="fb3"/><text class="ct" y="-3"><tspan x="0">stress</tspan><tspan x="0" dy="4.3">du trafic</tspan><tspan x="0" dy="4.3">routier</tspan></text></g>
<g id="mob-b33" transform="translate(528 475)"><circle r="17" class="rg kb3"/><circle r="14.6" class="fb3"/><text class="ct" y="-5.15"><tspan x="0">accessibilité</tspan><tspan x="0" dy="4.3">aux personnes</tspan><tspan x="0" dy="4.3">à mobilité</tspan><tspan x="0" dy="4.3">réduite</tspan></text></g>
<g id="mob-g11" transform="translate(694 399)"><circle r="17" class="rg kg1"/><circle r="14.6" class="fg1"/><text class="ct" y="1.3">réseau</text></g>
<g id="mob-g12" transform="translate(732 399)"><circle r="17" class="rg kg2"/><circle r="14.6" class="fg1"/><text class="ct" y="-0.85"><tspan x="0">continuité</tspan><tspan x="0" dy="4.3">écologique</tspan></text></g>
<g id="mob-g13" transform="translate(770 399)"><circle r="17" class="rg kg3"/><circle r="14.6" class="fg1"/><text class="ct" y="-0.85"><tspan x="0">émissions</tspan><tspan x="0" dy="4.3">de CO2</tspan></text></g>
<g id="mob-g21" transform="translate(694 437)"><circle r="17" class="rg kg1"/><circle r="14.6" class="fg2"/><text class="ct" y="1.3">pollution</text></g>
<g id="mob-g22" transform="translate(732 437)"><circle r="17" class="rg kg2"/><circle r="14.6" class="fg2"/><text class="ct" y="-3"><tspan x="0">modes</tspan><tspan x="0" dy="4.3">doux</tspan><tspan x="0" dy="4.3">partagés</tspan></text></g>
<g id="mob-g23" transform="translate(770 437)"><circle r="17" class="rg kg3"/><circle r="14.6" class="fg2"/><text class="ct" y="-0.85"><tspan x="0">mobilité</tspan><tspan x="0" dy="4.3">électrique</tspan></text></g>
<g id="mob-g31" transform="translate(694 475)"><circle r="17" class="rg kg1"/><circle r="14.6" class="fg3"/><text class="ct" y="-0.85"><tspan x="0">économies</tspan><tspan x="0" dy="4.3">d'énergie</tspan></text></g>
<g id="mob-g32" transform="translate(732 475)"><circle r="17" class="rg kg2"/><circle r="14.6" class="fg3"/><text class="ct" y="-3"><tspan x="0">transport</tspan><tspan x="0" dy="4.3">de</tspan><tspan x="0" dy="4.3">marchandises</tspan></text></g>
<g id="mob-g33" transform="translate(770 475)"><circle r="17" class="rg kg3"/><circle r="14.6" class="fg3"/><text class="ct" y="-0.85"><tspan x="0">qualité</tspan><tspan x="0" dy="4.3">de l'air</tspan></text></g>

<g id="int-u11" transform="translate(209 567)"><circle r="17" class="rg ku1"/><circle r="14.6" class="fu1"/><text class="ct" y="-3"><tspan x="0">diversité de</tspan><tspan x="0" dy="4.3">formes</tspan><tspan x="0" dy="4.3">urbaines</tspan></text></g>
<g id="int-u12" transform="translate(248 567)"><circle r="17" class="rg ku2"/><circle r="14.6" class="fu1"/><text class="ct" y="-0.85"><tspan x="0">mixité</tspan><tspan x="0" dy="4.3">ethnique</tspan></text></g>
<g id="int-u13" transform="translate(286 567)"><circle r="17" class="rg ku3"/><circle r="14.6" class="fu1"/><text class="ct" y="-3"><tspan x="0">qualité de</tspan><tspan x="0" dy="4.3">l'espace</tspan><tspan x="0" dy="4.3">public</tspan></text></g>
<g id="int-u21" transform="translate(209 605)"><circle r="17" class="rg ku1"/><circle r="14.6" class="fu2"/><text class="ct" y="-3"><tspan x="0">mixité</tspan><tspan x="0" dy="4.3">des</tspan><tspan x="0" dy="4.3">générations</tspan></text></g>
<g id="int-u22" transform="translate(248 605)"><circle r="17" class="rg ku2"/><circle r="14.6" class="fu2"/><text class="ct" y="-0.85"><tspan x="0">mixité</tspan><tspan x="0" dy="4.3">sociale</tspan></text></g>
<g id="int-u23" transform="translate(286 605)"><circle r="17" class="rg ku3"/><circle r="14.6" class="fu2"/><text class="ct" y="-5.15"><tspan x="0">qualité et</tspan><tspan x="0" dy="4.3">présence</tspan><tspan x="0" dy="4.3">d'espaces</tspan><tspan x="0" dy="4.3">publics</tspan></text></g>
<g id="int-u31" transform="translate(209 643)"><circle r="17" class="rg ku1"/><circle r="14.6" class="fu3"/><text class="ct" y="-3"><tspan x="0">densité de</tspan><tspan x="0" dy="4.3">population</tspan><tspan x="0" dy="4.3">résidente</tspan></text></g>
<g id="int-u32" transform="translate(248 643)"><circle r="17" class="rg ku2"/><circle r="14.6" class="fu3"/><text class="ct" y="-3"><tspan x="0">fréquentation</tspan><tspan x="0" dy="4.3">de l'offre</tspan><tspan x="0" dy="4.3">commerciale</tspan></text></g>
<g id="int-u33" transform="translate(286 643)"><circle r="17" class="rg ku3"/><circle r="14.6" class="fu3"/><text class="ct" y="-3"><tspan x="0">mixité de</tspan><tspan x="0" dy="4.3">l'offre</tspan><tspan x="0" dy="4.3">commerciale</tspan></text></g>
<g id="int-b11" transform="translate(452 567)"><circle r="17" class="rg kb1"/><circle r="14.6" class="fb1"/><text class="ct" y="-3"><tspan x="0">intégration</tspan><tspan x="0" dy="4.3">à la</tspan><tspan x="0" dy="4.3">communauté</tspan></text></g>
<g id="int-b12" transform="translate(490 567)"><circle r="17" class="rg kb2"/><circle r="14.6" class="fb1"/><text class="ct" y="-0.85"><tspan x="0">réduction</tspan><tspan x="0" dy="4.3">du stress</tspan></text></g>
<g id="int-b13" transform="translate(528 567)"><circle r="17" class="rg kb3"/><circle r="14.6" class="fb1"/><text class="ct" y="-3"><tspan x="0">pouvoir</tspan><tspan x="0" dy="4.3">de dire</tspan><tspan x="0" dy="4.3">et d'agir</tspan></text></g>
<g id="int-b21" transform="translate(452 605)"><circle r="17" class="rg kb1"/><circle r="14.6" class="fb2"/><text class="ct" y="-0.85"><tspan x="0">lieux de</tspan><tspan x="0" dy="4.3">rencontre</tspan></text></g>
<g id="int-b22" transform="translate(490 605)"><circle r="17" class="rg kb2"/><circle r="14.6" class="fb2"/><text class="ct" y="-3"><tspan x="0">réduction</tspan><tspan x="0" dy="4.3">de</tspan><tspan x="0" dy="4.3">l'isolement</tspan></text></g>
<g id="int-b23" transform="translate(528 605)"><circle r="17" class="rg kb3"/><circle r="14.6" class="fb2"/><text class="ct" y="-3"><tspan x="0">estime</tspan><tspan x="0" dy="4.3">de soi et</tspan><tspan x="0" dy="4.3">de l'autre</tspan></text></g>
<g id="int-b31" transform="translate(452 643)"><circle r="17" class="rg kb1"/><circle r="14.6" class="fb3"/><text class="ct" y="-3"><tspan x="0">intégration</tspan><tspan x="0" dy="4.3">des personnes</tspan><tspan x="0" dy="4.3">âgées</tspan></text></g>
<g id="int-b32" transform="translate(490 643)"><circle r="17" class="rg kb2"/><circle r="14.6" class="fb3"/><text class="ct" y="-0.85"><tspan x="0">confort</tspan><tspan x="0" dy="4.3">sonore</tspan></text></g>
<g id="int-b33" transform="translate(528 643)"><circle r="17" class="rg kb3"/><circle r="14.6" class="fb3"/><text class="ct" y="-3"><tspan x="0">sécurité</tspan><tspan x="0" dy="4.3">et</tspan><tspan x="0" dy="4.3">tranquillité</tspan></text></g>
<g id="int-g11" transform="translate(694 567)"><circle r="17" class="rg kg1"/><circle r="14.6" class="fg1"/><text class="ct" y="-0.85"><tspan x="0">jardins</tspan><tspan x="0" dy="4.3">partagés</tspan></text></g>
<g id="int-g12" transform="translate(732 567)"><circle r="17" class="rg kg2"/><circle r="14.6" class="fg1"/><text class="ct" y="-3"><tspan x="0">sensibilisation</tspan><tspan x="0" dy="4.3">environne-</tspan><tspan x="0" dy="4.3">mentale</tspan></text></g>
<g id="int-g13" transform="translate(770 567)"><circle r="17" class="rg kg3"/><circle r="14.6" class="fg1"/><text class="ct" y="-3"><tspan x="0">gestion</tspan><tspan x="0" dy="4.3">des espaces</tspan><tspan x="0" dy="4.3">verts</tspan></text></g>
<g id="int-g21" transform="translate(694 605)"><circle r="17" class="rg kg1"/><circle r="14.6" class="fg2"/><text class="ct" y="-0.85"><tspan x="0">participation</tspan><tspan x="0" dy="4.3">citoyenne</tspan></text></g>
<g id="int-g22" transform="translate(732 605)"><circle r="17" class="rg kg2"/><circle r="14.6" class="fg2"/><text class="ct" y="-0.85"><tspan x="0">effet</tspan><tspan x="0" dy="4.3">d'exemple</tspan></text></g>
<g id="int-g23" transform="translate(770 605)"><circle r="17" class="rg kg3"/><circle r="14.6" class="fg2"/><text class="ct" y="-3"><tspan x="0">respect</tspan><tspan x="0" dy="4.3">de la</tspan><tspan x="0" dy="4.3">nature</tspan></text></g>
<g id="int-g31" transform="translate(694 643)"><circle r="17" class="rg kg1"/><circle r="14.6" class="fg3"/><text class="ct" y="-3"><tspan x="0">économie</tspan><tspan x="0" dy="4.3">sociale</tspan><tspan x="0" dy="4.3">et solidaire</tspan></text></g>
<g id="int-g32" transform="translate(732 643)"><circle r="17" class="rg kg2"/><circle r="14.6" class="fg3"/><text class="ct" y="-3"><tspan x="0">lieux</tspan><tspan x="0" dy="4.3">de</tspan><tspan x="0" dy="4.3">détente</tspan></text></g>
<g id="int-g33" transform="translate(770 643)"><circle r="17" class="rg kg3"/><circle r="14.6" class="fg3"/><text class="ct" y="-0.85"><tspan x="0">associations</tspan><tspan x="0" dy="4.3">locales</tspan></text></g>

<g id="equ-u11" transform="translate(209 736)"><circle r="17" class="rg ku1"/><circle r="14.6" class="fu1"/><text class="ct" y="-3"><tspan x="0">géographie</tspan><tspan x="0" dy="4.3">des</tspan><tspan x="0" dy="4.3">équipements</tspan></text></g>
<g id="equ-u12" transform="translate(248 736)"><circle r="17" class="rg ku2"/><circle r="14.6" class="fu1"/><text class="ct" y="-0.85"><tspan x="0">mixité</tspan><tspan x="0" dy="4.3">fonctionnelle</tspan></text></g>
<g id="equ-u13" transform="translate(286 736)"><circle r="17" class="rg ku3"/><circle r="14.6" class="fu1"/><text class="ct" y="-3"><tspan x="0">proximité</tspan><tspan x="0" dy="4.3">des</tspan><tspan x="0" dy="4.3">équipements</tspan></text></g>
<g id="equ-u21" transform="translate(209 774)"><circle r="17" class="rg ku1"/><circle r="14.6" class="fu2"/><text class="ct" y="-3"><tspan x="0">attractivité</tspan><tspan x="0" dy="4.3">des pôles</tspan><tspan x="0" dy="4.3">d'activités</tspan></text></g>
<g id="equ-u22" transform="translate(248 774)"><circle r="17" class="rg ku2"/><circle r="14.6" class="fu2"/><text class="ct" y="-3"><tspan x="0">offre</tspan><tspan x="0" dy="4.3">de services</tspan><tspan x="0" dy="4.3">de proximité</tspan></text></g>
<g id="equ-u23" transform="translate(286 774)"><circle r="17" class="rg ku3"/><circle r="14.6" class="fu2"/><text class="ct" y="-3"><tspan x="0">réseau</tspan><tspan x="0" dy="4.3">d'équipe-</tspan><tspan x="0" dy="4.3">ments</tspan></text></g>
<g id="equ-u31" transform="translate(209 812)"><circle r="17" class="rg ku1"/><circle r="14.6" class="fu3"/><text class="ct" y="-3"><tspan x="0">mutualisation</tspan><tspan x="0" dy="4.3">des</tspan><tspan x="0" dy="4.3">équipements</tspan></text></g>
<g id="equ-u32" transform="translate(248 812)"><circle r="17" class="rg ku2"/><circle r="14.6" class="fu3"/><text class="ct" y="-3"><tspan x="0">qualité</tspan><tspan x="0" dy="4.3">des</tspan><tspan x="0" dy="4.3">services</tspan></text></g>
<g id="equ-u33" transform="translate(286 812)"><circle r="17" class="rg ku3"/><circle r="14.6" class="fu3"/><text class="ct" y="-3"><tspan x="0">accessibilité</tspan><tspan x="0" dy="4.3">des</tspan><tspan x="0" dy="4.3">services</tspan></text></g>
<g id="equ-b11" transform="translate(452 736)"><circle r="17" class="rg kb1"/><circle r="14.6" class="fb1"/><text class="ct" y="-3"><tspan x="0">accès</tspan><tspan x="0" dy="4.3">aux soins</tspan><tspan x="0" dy="4.3">de santé</tspan></text></g>
<g id="equ-b12" transform="translate(490 736)"><circle r="17" class="rg kb2"/><circle r="14.6" class="fb1"/><text class="ct" y="-0.85"><tspan x="0">prévention</tspan><tspan x="0" dy="4.3">santé</tspan></text></g>
<g id="equ-b13" transform="translate(528 736)"><circle r="17" class="rg kb3"/><circle r="14.6" class="fb1"/><text class="ct" y="-3"><tspan x="0">offre</tspan><tspan x="0" dy="4.3">en services</tspan><tspan x="0" dy="4.3">d'urgence</tspan></text></g>
<g id="equ-b21" transform="translate(452 774)"><circle r="17" class="rg kb1"/><circle r="14.6" class="fb2"/><text class="ct" y="-3"><tspan x="0">équipements</tspan><tspan x="0" dy="4.3">sportifs</tspan><tspan x="0" dy="4.3">de quartier</tspan></text></g>
<g id="equ-b22" transform="translate(490 774)"><circle r="17" class="rg kb2"/><circle r="14.6" class="fb2"/><text class="ct" y="-3"><tspan x="0">complémen-</tspan><tspan x="0" dy="4.3">tarité</tspan><tspan x="0" dy="4.3">de l'offre</tspan></text></g>
<g id="equ-b23" transform="translate(528 774)"><circle r="17" class="rg kb3"/><circle r="14.6" class="fb2"/><text class="ct" y="-3"><tspan x="0">centre</tspan><tspan x="0" dy="4.3">médical</tspan><tspan x="0" dy="4.3">de proximité</tspan></text></g>
<g id="equ-b31" transform="translate(452 812)"><circle r="17" class="rg kb1"/><circle r="14.6" class="fb3"/><text class="ct" y="-3"><tspan x="0">services</tspan><tspan x="0" dy="4.3">d'aide à</tspan><tspan x="0" dy="4.3">domicile</tspan></text></g>
<g id="equ-b32" transform="translate(490 812)"><circle r="17" class="rg kb2"/><circle r="14.6" class="fb3"/><text class="ct" y="-0.85"><tspan x="0">équipements</tspan><tspan x="0" dy="4.3">de loisirs</tspan></text></g>
<g id="equ-b33" transform="translate(528 812)"><circle r="17" class="rg kb3"/><circle r="14.6" class="fb3"/><text class="ct" y="-3"><tspan x="0">services</tspan><tspan x="0" dy="4.3">et</tspan><tspan x="0" dy="4.3">activités</tspan></text></g>
<g id="equ-g11" transform="translate(694 736)"><circle r="17" class="rg kg1"/><circle r="14.6" class="fg1"/><text class="ct" y="-0.85"><tspan x="0">efficacité</tspan><tspan x="0" dy="4.3">énergétique</tspan></text></g>
<g id="equ-g12" transform="translate(732 736)"><circle r="17" class="rg kg2"/><circle r="14.6" class="fg1"/><text class="ct" y="-3"><tspan x="0">gestion</tspan><tspan x="0" dy="4.3">des</tspan><tspan x="0" dy="4.3">déchets</tspan></text></g>
<g id="equ-g13" transform="translate(770 736)"><circle r="17" class="rg kg3"/><circle r="14.6" class="fg1"/><text class="ct" y="-3"><tspan x="0">exploitation</tspan><tspan x="0" dy="4.3">durable des</tspan><tspan x="0" dy="4.3">bâtiments</tspan></text></g>
<g id="equ-g21" transform="translate(694 774)"><circle r="17" class="rg kg1"/><circle r="14.6" class="fg2"/><text class="ct" y="-0.85"><tspan x="0">ressources</tspan><tspan x="0" dy="4.3">locales</tspan></text></g>
<g id="equ-g22" transform="translate(732 774)"><circle r="17" class="rg kg2"/><circle r="14.6" class="fg2"/><text class="ct" y="-3"><tspan x="0">réemploi</tspan><tspan x="0" dy="4.3">des</tspan><tspan x="0" dy="4.3">matériaux</tspan></text></g>
<g id="equ-g23" transform="translate(770 774)"><circle r="17" class="rg kg3"/><circle r="14.6" class="fg2"/><text class="ct" y="-3"><tspan x="0">production</tspan><tspan x="0" dy="4.3">d'énergie</tspan><tspan x="0" dy="4.3">renouvelable</tspan></text></g>
<g id="equ-g31" transform="translate(694 812)"><circle r="17" class="rg kg1"/><circle r="14.6" class="fg3"/><text class="ct" y="-0.85"><tspan x="0">gestion</tspan><tspan x="0" dy="4.3">de l'eau</tspan></text></g>
<g id="equ-g32" transform="translate(732 812)"><circle r="17" class="rg kg2"/><circle r="14.6" class="fg3"/><text class="ct" y="-0.85"><tspan x="0">énergie</tspan><tspan x="0" dy="4.3">grise</tspan></text></g>
<g id="equ-g33" transform="translate(770 812)"><circle r="17" class="rg kg3"/><circle r="14.6" class="fg3"/><text class="ct" y="-3"><tspan x="0">éco-</tspan><tspan x="0" dy="4.3">conception des</tspan><tspan x="0" dy="4.3">équipements</tspan></text></g>

<g id="emp-u11" transform="translate(209 904)"><circle r="17" class="rg ku1"/><circle r="14.6" class="fu1"/><text class="ct" y="-3"><tspan x="0">lieux</tspan><tspan x="0" dy="4.3">d'emploi</tspan><tspan x="0" dy="4.3">de proximité</tspan></text></g>
<g id="emp-u12" transform="translate(248 904)"><circle r="17" class="rg ku2"/><circle r="14.6" class="fu1"/><text class="ct" y="-3"><tspan x="0">densité</tspan><tspan x="0" dy="4.3">des</tspan><tspan x="0" dy="4.3">emplois</tspan></text></g>
<g id="emp-u13" transform="translate(286 904)"><circle r="17" class="rg ku3"/><circle r="14.6" class="fu1"/><text class="ct" y="-3"><tspan x="0">mixité</tspan><tspan x="0" dy="4.3">emploi /</tspan><tspan x="0" dy="4.3">habitat</tspan></text></g>
<g id="emp-u21" transform="translate(209 942)"><circle r="17" class="rg ku1"/><circle r="14.6" class="fu2"/><text class="ct" y="-3"><tspan x="0">diversité</tspan><tspan x="0" dy="4.3">de l'offre</tspan><tspan x="0" dy="4.3">d'emploi</tspan></text></g>
<g id="emp-u22" transform="translate(248 942)"><circle r="17" class="rg ku2"/><circle r="14.6" class="fu2"/><text class="ct" y="-0.85"><tspan x="0">accès</tspan><tspan x="0" dy="4.3">à l'emploi</tspan></text></g>
<g id="emp-u23" transform="translate(286 942)"><circle r="17" class="rg ku3"/><circle r="14.6" class="fu2"/><text class="ct" y="-3"><tspan x="0">pôles</tspan><tspan x="0" dy="4.3">d'activités</tspan><tspan x="0" dy="4.3">économiques</tspan></text></g>
<g id="emp-u31" transform="translate(209 980)"><circle r="17" class="rg ku1"/><circle r="14.6" class="fu3"/><text class="ct" y="-3"><tspan x="0">commerces</tspan><tspan x="0" dy="4.3">et services</tspan><tspan x="0" dy="4.3">de proximité</tspan></text></g>
<g id="emp-u32" transform="translate(248 980)"><circle r="17" class="rg ku2"/><circle r="14.6" class="fu3"/><text class="ct" y="-3"><tspan x="0">mobilité</tspan><tspan x="0" dy="4.3">domicile-</tspan><tspan x="0" dy="4.3">travail</tspan></text></g>
<g id="emp-u33" transform="translate(286 980)"><circle r="17" class="rg ku3"/><circle r="14.6" class="fu3"/><text class="ct" y="-3"><tspan x="0">attractivité</tspan><tspan x="0" dy="4.3">économique</tspan><tspan x="0" dy="4.3">du territoire</tspan></text></g>
<g id="emp-b11" transform="translate(452 904)"><circle r="17" class="rg kb1"/><circle r="14.6" class="fb1"/><text class="ct" y="-5.15"><tspan x="0">opportunités</tspan><tspan x="0" dy="4.3">d'insertion</tspan><tspan x="0" dy="4.3">profession-</tspan><tspan x="0" dy="4.3">nelle</tspan></text></g>
<g id="emp-b12" transform="translate(490 904)"><circle r="17" class="rg kb2"/><circle r="14.6" class="fb1"/><text class="ct" y="-3"><tspan x="0">programmes</tspan><tspan x="0" dy="4.3">de recherche</tspan><tspan x="0" dy="4.3">pour la santé</tspan></text></g>
<g id="emp-b13" transform="translate(528 904)"><circle r="17" class="rg kb3"/><circle r="14.6" class="fb1"/><text class="ct" y="-0.85"><tspan x="0">cadre</tspan><tspan x="0" dy="4.3">professionnel</tspan></text></g>
<g id="emp-b21" transform="translate(452 942)"><circle r="17" class="rg kb1"/><circle r="14.6" class="fb2"/><text class="ct" y="-5.15"><tspan x="0">personnes</tspan><tspan x="0" dy="4.3">en situation</tspan><tspan x="0" dy="4.3">de</tspan><tspan x="0" dy="4.3">handicap</tspan></text></g>
<g id="emp-b22" transform="translate(490 942)"><circle r="17" class="rg kb2"/><circle r="14.6" class="fb2"/><text class="ct" y="-3"><tspan x="0">organisation</tspan><tspan x="0" dy="4.3">du temps</tspan><tspan x="0" dy="4.3">de travail</tspan></text></g>
<g id="emp-b23" transform="translate(528 942)"><circle r="17" class="rg kb3"/><circle r="14.6" class="fb2"/><text class="ct" y="-0.85"><tspan x="0">rythme</tspan><tspan x="0" dy="4.3">du travail</tspan></text></g>
<g id="emp-b31" transform="translate(452 980)"><circle r="17" class="rg kb1"/><circle r="14.6" class="fb3"/><text class="ct" y="-3"><tspan x="0">horaires des</tspan><tspan x="0" dy="4.3">activités</tspan><tspan x="0" dy="4.3">de loisirs</tspan></text></g>
<g id="emp-b32" transform="translate(490 980)"><circle r="17" class="rg kb2"/><circle r="14.6" class="fb3"/><text class="ct" y="-3"><tspan x="0">conciliation</tspan><tspan x="0" dy="4.3">vie privée</tspan><tspan x="0" dy="4.3">et travail</tspan></text></g>
<g id="emp-b33" transform="translate(528 980)"><circle r="17" class="rg kb3"/><circle r="14.6" class="fb3"/><text class="ct" y="-3"><tspan x="0">conditions</tspan><tspan x="0" dy="4.3">de travail</tspan><tspan x="0" dy="4.3">et santé</tspan></text></g>
<g id="emp-g11" transform="translate(694 904)"><circle r="17" class="rg kg1"/><circle r="14.6" class="fg1"/><text class="ct" y="-0.85"><tspan x="0">filières</tspan><tspan x="0" dy="4.3">vertes</tspan></text></g>
<g id="emp-g12" transform="translate(732 904)"><circle r="17" class="rg kg2"/><circle r="14.6" class="fg1"/><text class="ct" y="-3"><tspan x="0">emplois</tspan><tspan x="0" dy="4.3">de l'économie</tspan><tspan x="0" dy="4.3">verte</tspan></text></g>
<g id="emp-g13" transform="translate(770 904)"><circle r="17" class="rg kg3"/><circle r="14.6" class="fg1"/><text class="ct" y="-3"><tspan x="0">activités</tspan><tspan x="0" dy="4.3">agricoles</tspan><tspan x="0" dy="4.3">urbaines</tspan></text></g>
<g id="emp-g21" transform="translate(694 942)"><circle r="17" class="rg kg1"/><circle r="14.6" class="fg2"/><text class="ct" y="-0.85"><tspan x="0">circuits</tspan><tspan x="0" dy="4.3">courts</tspan></text></g>
<g id="emp-g22" transform="translate(732 942)"><circle r="17" class="rg kg2"/><circle r="14.6" class="fg2"/><text class="ct" y="-0.85"><tspan x="0">économie</tspan><tspan x="0" dy="4.3">circulaire</tspan></text></g>
<g id="emp-g23" transform="translate(770 942)"><circle r="17" class="rg kg3"/><circle r="14.6" class="fg2"/><text class="ct" y="-3"><tspan x="0">télétravail</tspan><tspan x="0" dy="4.3">et réduction</tspan><tspan x="0" dy="4.3">des trajets</tspan></text></g>
<g id="emp-g31" transform="translate(694 980)"><circle r="17" class="rg kg1"/><circle r="14.6" class="fg3"/><text class="ct" y="-3"><tspan x="0">formation</tspan><tspan x="0" dy="4.3">aux métiers</tspan><tspan x="0" dy="4.3">verts</tspan></text></g>
<g id="emp-g32" transform="translate(732 980)"><circle r="17" class="rg kg2"/><circle r="14.6" class="fg3"/><text class="ct" y="-3"><tspan x="0">entreprises</tspan><tspan x="0" dy="4.3">éco-</tspan><tspan x="0" dy="4.3">responsables</tspan></text></g>
<g id="emp-g33" transform="translate(770 980)"><circle r="17" class="rg kg3"/><circle r="14.6" class="fg3"/><text class="ct" y="-0.85"><tspan x="0">production</tspan><tspan x="0" dy="4.3">locale</tspan></text></g>

<g id="cul-u11" transform="translate(209 1073)"><circle r="17" class="rg ku1"/><circle r="14.6" class="fu1"/><text class="ct" y="-3"><tspan x="0">valorisation</tspan><tspan x="0" dy="4.3">du patrimoine</tspan><tspan x="0" dy="4.3">culturel</tspan></text></g>
<g id="cul-u12" transform="translate(248 1073)"><circle r="17" class="rg ku2"/><circle r="14.6" class="fu1"/><text class="ct" y="-3"><tspan x="0">accessibilité</tspan><tspan x="0" dy="4.3">de l'offre</tspan><tspan x="0" dy="4.3">culturelle</tspan></text></g>
<g id="cul-u13" transform="translate(286 1073)"><circle r="17" class="rg ku3"/><circle r="14.6" class="fu1"/><text class="ct" y="-3"><tspan x="0">identité</tspan><tspan x="0" dy="4.3">culturelle</tspan><tspan x="0" dy="4.3">des quartiers</tspan></text></g>
<g id="cul-u21" transform="translate(209 1111)"><circle r="17" class="rg ku1"/><circle r="14.6" class="fu2"/><text class="ct" y="-0.85"><tspan x="0">vie</tspan><tspan x="0" dy="4.3">culturelle</tspan></text></g>
<g id="cul-u22" transform="translate(248 1111)"><circle r="17" class="rg ku2"/><circle r="14.6" class="fu2"/><text class="ct" y="-0.85"><tspan x="0">animation</tspan><tspan x="0" dy="4.3">de quartier</tspan></text></g>
<g id="cul-u23" transform="translate(286 1111)"><circle r="17" class="rg ku3"/><circle r="14.6" class="fu2"/><text class="ct" y="-5.15"><tspan x="0">mixité</tspan><tspan x="0" dy="4.3">culturelle et</tspan><tspan x="0" dy="4.3">lieux de</tspan><tspan x="0" dy="4.3">mémoire</tspan></text></g>
<g id="cul-u31" transform="translate(209 1149)"><circle r="17" class="rg ku1"/><circle r="14.6" class="fu3"/><text class="ct" y="-3"><tspan x="0">diversité</tspan><tspan x="0" dy="4.3">des</tspan><tspan x="0" dy="4.3">cultures</tspan></text></g>
<g id="cul-u32" transform="translate(248 1149)"><circle r="17" class="rg ku2"/><circle r="14.6" class="fu3"/><text class="ct" y="-5.15"><tspan x="0">partage des</tspan><tspan x="0" dy="4.3">connaissances</tspan><tspan x="0" dy="4.3">et du</tspan><tspan x="0" dy="4.3">savoir-faire</tspan></text></g>
<g id="cul-u33" transform="translate(286 1149)"><circle r="17" class="rg ku3"/><circle r="14.6" class="fu3"/><text class="ct" y="-3"><tspan x="0">lieux de</tspan><tspan x="0" dy="4.3">rencontre</tspan><tspan x="0" dy="4.3">des cultures</tspan></text></g>
<g id="cul-b11" transform="translate(452 1073)"><circle r="17" class="rg kb1"/><circle r="14.6" class="fb1"/><text class="ct" y="-0.85"><tspan x="0">accès</tspan><tspan x="0" dy="4.3">à la culture</tspan></text></g>
<g id="cul-b12" transform="translate(490 1073)"><circle r="17" class="rg kb2"/><circle r="14.6" class="fb1"/><text class="ct" y="-3"><tspan x="0">la culture</tspan><tspan x="0" dy="4.3">comme</tspan><tspan x="0" dy="4.3">thérapie</tspan></text></g>
<g id="cul-b13" transform="translate(528 1073)"><circle r="17" class="rg kb3"/><circle r="14.6" class="fb1"/><text class="ct" y="-0.85"><tspan x="0">éducation</tspan><tspan x="0" dy="4.3">à la santé</tspan></text></g>
<g id="cul-b21" transform="translate(452 1111)"><circle r="17" class="rg kb1"/><circle r="14.6" class="fb2"/><text class="ct" y="-3"><tspan x="0">pratiques</tspan><tspan x="0" dy="4.3">artistiques</tspan><tspan x="0" dy="4.3">amateurs</tspan></text></g>
<g id="cul-b22" transform="translate(490 1111)"><circle r="17" class="rg kb2"/><circle r="14.6" class="fb2"/><text class="ct" y="1.3">créativité</text></g>
<g id="cul-b23" transform="translate(528 1111)"><circle r="17" class="rg kb3"/><circle r="14.6" class="fb2"/><text class="ct" y="-3"><tspan x="0">valorisation</tspan><tspan x="0" dy="4.3">des activités</tspan><tspan x="0" dy="4.3">culturelles</tspan></text></g>
<g id="cul-b31" transform="translate(452 1149)"><circle r="17" class="rg kb1"/><circle r="14.6" class="fb3"/><text class="ct" y="-3"><tspan x="0">offre</tspan><tspan x="0" dy="4.3">culturelle</tspan><tspan x="0" dy="4.3">de proximité</tspan></text></g>
<g id="cul-b32" transform="translate(490 1149)"><circle r="17" class="rg kb2"/><circle r="14.6" class="fb3"/><text class="ct" y="-3"><tspan x="0">éducation</tspan><tspan x="0" dy="4.3">et</tspan><tspan x="0" dy="4.3">formation</tspan></text></g>
<g id="cul-b33" transform="translate(528 1149)"><circle r="17" class="rg kb3"/><circle r="14.6" class="fb3"/><text class="ct" y="-3"><tspan x="0">sensibilisation</tspan><tspan x="0" dy="4.3">aux enjeux</tspan><tspan x="0" dy="4.3">de santé</tspan></text></g>
<g id="cul-g11" transform="translate(694 1073)"><circle r="17" class="rg kg1"/><circle r="14.6" class="fg1"/><text class="ct" y="-3"><tspan x="0">sensibilisation</tspan><tspan x="0" dy="4.3">à l'environ-</tspan><tspan x="0" dy="4.3">nement</tspan></text></g>
<g id="cul-g12" transform="translate(732 1073)"><circle r="17" class="rg kg2"/><circle r="14.6" class="fg1"/><text class="ct" y="-3"><tspan x="0">consommation</tspan><tspan x="0" dy="4.3">responsable</tspan><tspan x="0" dy="4.3">des citoyens</tspan></text></g>
<g id="cul-g13" transform="translate(770 1073)"><circle r="17" class="rg kg3"/><circle r="14.6" class="fg1"/><text class="ct" y="-3"><tspan x="0">éducation</tspan><tspan x="0" dy="4.3">environne-</tspan><tspan x="0" dy="4.3">mentale</tspan></text></g>
<g id="cul-g21" transform="translate(694 1111)"><circle r="17" class="rg kg1"/><circle r="14.6" class="fg2"/><text class="ct" y="-3"><tspan x="0">rapport</tspan><tspan x="0" dy="4.3">culturel</tspan><tspan x="0" dy="4.3">à la nature</tspan></text></g>
<g id="cul-g22" transform="translate(732 1111)"><circle r="17" class="rg kg2"/><circle r="14.6" class="fg2"/><text class="ct" y="-5.15"><tspan x="0">savoirs</tspan><tspan x="0" dy="4.3">traditionnels</tspan><tspan x="0" dy="4.3">et pratiques</tspan><tspan x="0" dy="4.3">locales</tspan></text></g>
<g id="cul-g23" transform="translate(770 1111)"><circle r="17" class="rg kg3"/><circle r="14.6" class="fg2"/><text class="ct" y="-0.85"><tspan x="0">paysage</tspan><tspan x="0" dy="4.3">culturel</tspan></text></g>
<g id="cul-g31" transform="translate(694 1149)"><circle r="17" class="rg kg1"/><circle r="14.6" class="fg3"/><text class="ct" y="-3"><tspan x="0">événements</tspan><tspan x="0" dy="4.3">éco-</tspan><tspan x="0" dy="4.3">responsables</tspan></text></g>
<g id="cul-g32" transform="translate(732 1149)"><circle r="17" class="rg kg2"/><circle r="14.6" class="fg3"/><text class="ct" y="-3"><tspan x="0">patrimoine</tspan><tspan x="0" dy="4.3">naturel et</tspan><tspan x="0" dy="4.3">culturel</tspan></text></g>
<g id="cul-g33" transform="translate(770 1149)"><circle r="17" class="rg kg3"/><circle r="14.6" class="fg3"/><text class="ct" y="-3"><tspan x="0">culture</tspan><tspan x="0" dy="4.3">scientifique</tspan><tspan x="0" dy="4.3">et technique</tspan></text></g>
</svg>
